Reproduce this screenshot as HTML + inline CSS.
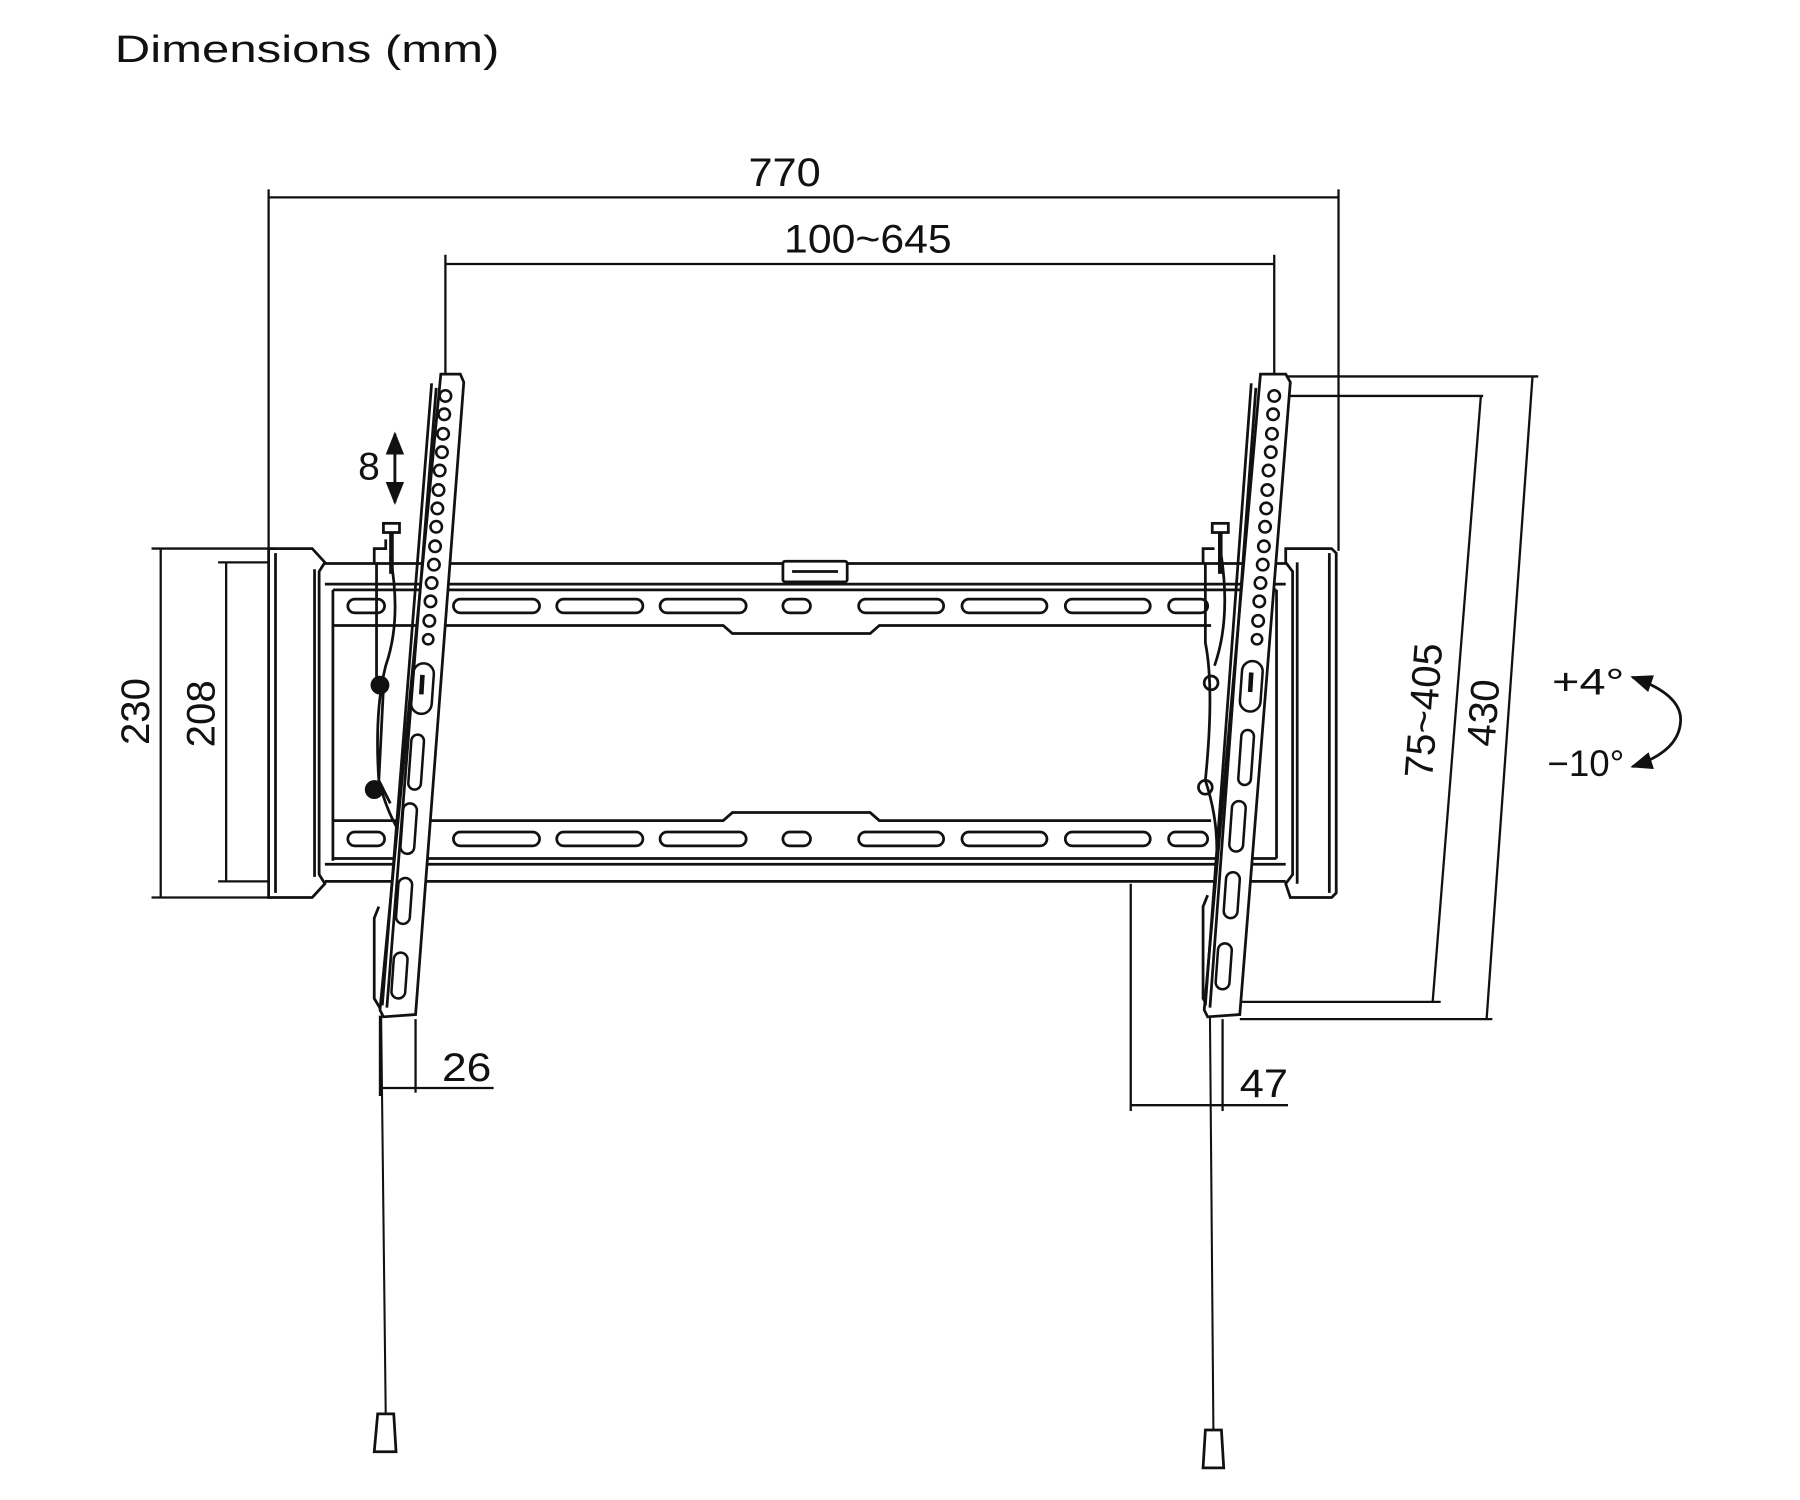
<!DOCTYPE html>
<html><head><meta charset="utf-8"><style>
html,body{margin:0;padding:0;background:#fff;}
svg{display:block;}
text{font-family:"Liberation Sans",sans-serif;fill:#111;}
</style></head><body>
<svg width="1800" height="1500" viewBox="0 0 1568 1307" preserveAspectRatio="none" xmlns="http://www.w3.org/2000/svg">
<defs>
<marker id="ah" viewBox="0 0 10 10" refX="9" refY="5" markerWidth="8" markerHeight="8" orient="auto-start-reverse"><path d="M0,1 L10,5 L0,9 z" fill="#111"/></marker>
</defs>
<text x="100" y="54" font-size="33" textLength="335" lengthAdjust="spacingAndGlyphs">Dimensions (mm)</text>

<g stroke="#111" stroke-width="2" fill="none">
<line x1="234" y1="165" x2="234" y2="480"/>
<line x1="1166" y1="165" x2="1166" y2="480"/>
<line x1="234" y1="172" x2="1166" y2="172"/>
<line x1="388" y1="222" x2="388" y2="330"/>
<line x1="1110" y1="222" x2="1110" y2="330"/>
<line x1="388" y1="230" x2="1110" y2="230"/>
<line x1="132" y1="478" x2="240" y2="478"/>
<line x1="132" y1="782" x2="240" y2="782"/>
<line x1="140" y1="478" x2="140" y2="782"/>
<line x1="190" y1="490" x2="240" y2="490"/>
<line x1="190" y1="768" x2="240" y2="768"/>
<line x1="197" y1="490" x2="197" y2="768"/>
<line x1="1120" y1="328" x2="1340" y2="328"/>
<line x1="1080" y1="888" x2="1300" y2="888"/>
<line x1="1335" y1="328" x2="1295" y2="888"/>
<line x1="1112" y1="345" x2="1292" y2="345"/>
<line x1="1080" y1="873" x2="1255" y2="873"/>
<line x1="1290" y1="345" x2="1248" y2="873"/>
<line x1="331" y1="885" x2="331" y2="955"/>
<line x1="362" y1="888" x2="362" y2="952"/>
<line x1="331" y1="948" x2="430" y2="948"/>
<line x1="985" y1="770" x2="985" y2="968"/>
<line x1="1065" y1="888" x2="1065" y2="968"/>
<line x1="985" y1="963" x2="1122" y2="963"/>
</g>

<line x1="344" y1="378" x2="344" y2="438" stroke="#111" stroke-width="2.5" marker-start="url(#ah)" marker-end="url(#ah)"/>
<text x="312" y="418" font-size="34">8</text>

<path d="M1422,590 Q1465,605 1464,628 Q1463,655 1422,668" stroke="#111" stroke-width="2.4" fill="none" marker-start="url(#ah)" marker-end="url(#ah)"/>
<text x="1352" y="605" font-size="32" textLength="63" lengthAdjust="spacingAndGlyphs">+4°</text>
<text x="1348" y="676" font-size="32" textLength="67" lengthAdjust="spacingAndGlyphs">−10°</text>

<text x="652" y="162" font-size="35" textLength="63" lengthAdjust="spacingAndGlyphs">770</text>
<text x="683" y="220" font-size="35" textLength="146" lengthAdjust="spacingAndGlyphs">100~645</text>
<text transform="translate(130,620) rotate(-90)" font-size="35" text-anchor="middle">230</text>
<text transform="translate(187,622) rotate(-90)" font-size="35" text-anchor="middle">208</text>
<text transform="translate(1252,620) rotate(-85.7)" font-size="35" text-anchor="middle">75~405</text>
<text transform="translate(1304,622) rotate(-85.7)" font-size="35" text-anchor="middle">430</text>
<text x="385" y="942" font-size="35" textLength="43" lengthAdjust="spacingAndGlyphs">26</text>
<text x="1080" y="956" font-size="35" textLength="42" lengthAdjust="spacingAndGlyphs">47</text>

<g stroke="#111" stroke-width="2.4" fill="none">
<path d="M234,478 L272,478 L283,490 L278,498 L278,762 L283,770 L272,782 L234,782 Z" fill="#fff"/>
<line x1="240" y1="482" x2="240" y2="778"/>
<line x1="274" y1="496" x2="274" y2="764"/>
<path d="M1120,478 L1160,478 L1164,482 L1164,778 L1160,782 L1124,782 L1120,770 L1126,762 L1126,498 L1120,490 Z" fill="#fff"/>
<line x1="1130" y1="490" x2="1130" y2="770"/>
<line x1="1158" y1="482" x2="1158" y2="778"/>
<line x1="283" y1="491" x2="1120" y2="491"/>
<line x1="283" y1="509" x2="1120" y2="509"/>
<line x1="290" y1="514" x2="1112" y2="514"/>
<path d="M290,514 L290,750"/>
<path d="M290,545 L630,545 L638,552 L758,552 L766,545 L1055,545"/>
<path d="M290,715 L630,715 L638,708 L758,708 L766,715 L1055,715"/>
<line x1="290" y1="748" x2="1112" y2="748"/>
<line x1="283" y1="753" x2="1120" y2="753"/>
<line x1="283" y1="768" x2="1120" y2="768"/>
<line x1="1112" y1="514" x2="1112" y2="748"/>
<rect x="682" y="489" width="56" height="18" rx="2" fill="#fff"/>
<line x1="690" y1="498" x2="730" y2="498"/>
<g>
<rect x="303" y="522" width="32" height="12" rx="6"/><rect x="395" y="522" width="75" height="12" rx="6"/><rect x="485" y="522" width="75" height="12" rx="6"/><rect x="575" y="522" width="75" height="12" rx="6"/><rect x="682" y="522" width="24" height="12" rx="6"/><rect x="748" y="522" width="74" height="12" rx="6"/><rect x="838" y="522" width="74" height="12" rx="6"/><rect x="928" y="522" width="74" height="12" rx="6"/><rect x="1018" y="522" width="34" height="12" rx="6"/>
<rect x="303" y="725" width="32" height="12" rx="6"/><rect x="395" y="725" width="75" height="12" rx="6"/><rect x="485" y="725" width="75" height="12" rx="6"/><rect x="575" y="725" width="75" height="12" rx="6"/><rect x="682" y="725" width="24" height="12" rx="6"/><rect x="748" y="725" width="74" height="12" rx="6"/><rect x="838" y="725" width="74" height="12" rx="6"/><rect x="928" y="725" width="74" height="12" rx="6"/><rect x="1018" y="725" width="34" height="12" rx="6"/>
</g>

<path d="M326,490 L326,478 L336,478 L336,470 M328,490 L328,590 L334,600 L330,680 L340,700 M340,485 Q350,540 336,580 Q326,620 330,680 Q340,720 360,740" fill="none"/>
<rect x="334" y="456" width="14" height="8" fill="#fff"/>
<line x1="341" y1="464" x2="341" y2="500" stroke-width="4"/>
<circle cx="331" cy="597" r="7" fill="#111"/>
<circle cx="326" cy="688" r="7" fill="#111"/>
<path d="M330,790 L326,800 L326,870 L332,880"/>
<path d="M1048,490 L1048,478 L1058,478 M1050,490 L1050,560 Q1058,600 1050,680 Q1060,710 1060,740 M1064,485 Q1072,540 1058,580"/>
<rect x="1056" y="456" width="14" height="8" fill="#fff"/>
<line x1="1063" y1="464" x2="1063" y2="500" stroke-width="4"/>
<circle cx="1055" cy="595" r="6"/>
<circle cx="1050" cy="686" r="6"/>
<path d="M1052,780 L1048,790 L1048,870 L1054,880"/>

<path d="M384,326 L401,326 L404,333 L362,884 L334,886 L331,880 Z" fill="#fff"/>
<line x1="380" y1="338" x2="337" y2="878"/>
<line x1="376" y1="334" x2="333" y2="876"/>
<path d="M1098,326 L1120,326 L1124,333 L1080,884 L1052,886 L1049,880 Z" fill="#fff"/>
<line x1="1094" y1="338" x2="1054" y2="878"/>
<line x1="1090" y1="334" x2="1050" y2="876"/>
</g>

<g stroke="#111" stroke-width="2.2" fill="none">
<circle cx="388" cy="345" r="5"/><circle cx="387" cy="361" r="5"/><circle cx="386" cy="378" r="5"/><circle cx="385" cy="394" r="5"/><circle cx="383" cy="410" r="5"/><circle cx="382" cy="427" r="5"/><circle cx="381" cy="443" r="5"/><circle cx="380" cy="459" r="5"/><circle cx="379" cy="476" r="5"/><circle cx="378" cy="492" r="5"/><circle cx="376" cy="508" r="5"/><circle cx="375" cy="524" r="5"/><circle cx="374" cy="541" r="5"/><circle cx="373" cy="557" r="4.5"/>
<rect x="359" y="578" width="18" height="44" rx="9" transform="rotate(4.1 368 600)"/>
<line x1="368" y1="588" x2="367" y2="605" stroke-width="4"/>
<rect x="357" y="640" width="11" height="48" rx="5.5" transform="rotate(4.1 362 664)"/>
<rect x="350" y="700" width="12" height="44" rx="6" transform="rotate(4.1 356 722)"/>
<rect x="346" y="765" width="12" height="40" rx="6" transform="rotate(4.1 352 785)"/>
<rect x="342" y="830" width="12" height="40" rx="6" transform="rotate(4.1 348 850)"/>
<circle cx="1110" cy="345" r="5"/><circle cx="1109" cy="361" r="5"/><circle cx="1108" cy="378" r="5"/><circle cx="1107" cy="394" r="5"/><circle cx="1105" cy="410" r="5"/><circle cx="1104" cy="427" r="5"/><circle cx="1103" cy="443" r="5"/><circle cx="1102" cy="459" r="5"/><circle cx="1101" cy="476" r="5"/><circle cx="1100" cy="492" r="5"/><circle cx="1098" cy="508" r="5"/><circle cx="1097" cy="524" r="5"/><circle cx="1096" cy="541" r="5"/><circle cx="1095" cy="557" r="4.5"/>
<rect x="1081" y="576" width="18" height="44" rx="9" transform="rotate(4.1 1090 598)"/>
<line x1="1090" y1="586" x2="1089" y2="603" stroke-width="4"/>
<rect x="1080" y="636" width="11" height="48" rx="5.5" transform="rotate(4.1 1085 660)"/>
<rect x="1072" y="698" width="12" height="44" rx="6" transform="rotate(4.1 1078 720)"/>
<rect x="1067" y="760" width="12" height="40" rx="6" transform="rotate(4.1 1073 780)"/>
<rect x="1060" y="822" width="12" height="40" rx="6" transform="rotate(4.1 1066 842)"/>
</g>

<g stroke="#111" stroke-width="1.8" fill="#fff">
<line x1="332" y1="885" x2="336" y2="1232"/>
<line x1="1054" y1="885" x2="1057" y2="1246"/>
<path d="M329,1232 L343,1232 L345,1265 L326,1265 Z" stroke-width="2.4"/>
<path d="M1050,1246 L1064,1246 L1066,1279 L1048,1279 Z" stroke-width="2.4"/>
</g>
</svg>
</body></html>
